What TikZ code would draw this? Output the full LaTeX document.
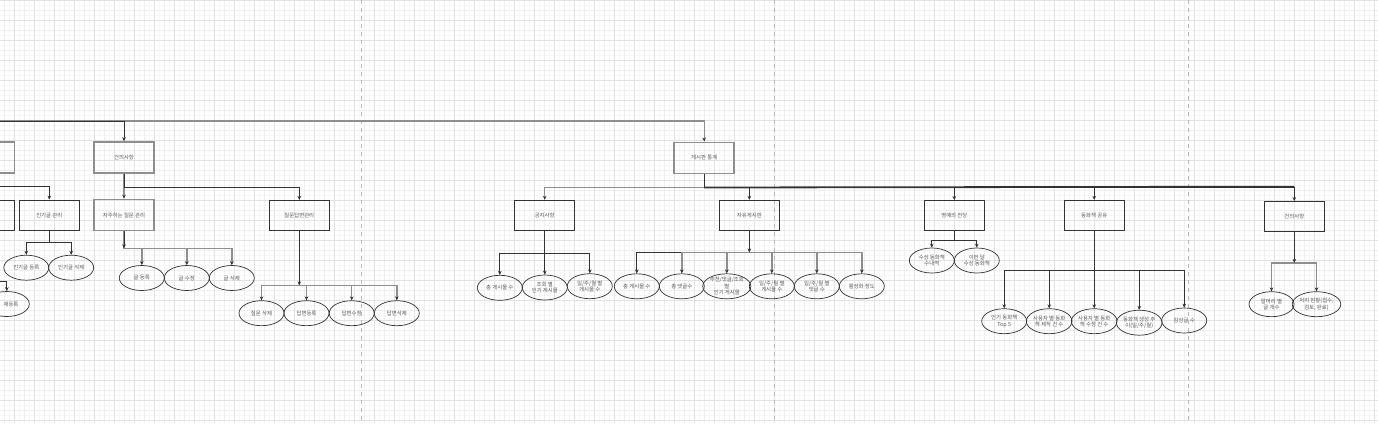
\documentclass[tikz,border=0pt]{standalone}
\usepackage{fontspec}
\newfontfamily\kr{Noto Sans CJK KR}
\usetikzlibrary{shapes.geometric,arrows.meta}
\definecolor{dline}{HTML}{333333}
\definecolor{gline}{HTML}{8E8E8E}
\definecolor{txt}{HTML}{5A5A5A}
\definecolor{gridmin}{HTML}{F7F7F7}
\definecolor{gridmid}{HTML}{EEEEEE}
\definecolor{gridmaj}{HTML}{E2E2E2}
\definecolor{pgbrk}{HTML}{B8B8B8}
\begin{document}
\begin{tikzpicture}[x=1pt,y=-1pt,
  every node/.style={font=\kr\fontsize{5.4}{6.4}\selectfont, text=txt, align=center, inner sep=0pt},
  gbox/.style={draw=gline, line width=1.6pt, minimum width=60pt, minimum height=31pt},
  dbox/.style={draw=dline, line width=0.8pt, minimum width=60pt, minimum height=30pt},
  ell/.style={ellipse, draw=dline, line width=0.7pt, minimum width=45pt, minimum height=25pt},
  conn/.style={draw=dline, line width=0.8pt, -{Stealth[length=4pt,width=3.6pt,color=dline]}},
  gconn/.style={draw=gline, line width=1.4pt, -{Stealth[length=4pt,width=3.6pt,color=dline]}},
  minorline/.style={draw=gridmin, line width=0.4pt},
  midline/.style={draw=gridmid, line width=0.5pt},
  majorline/.style={draw=gridmaj, line width=0.6pt},
  pagebreak/.style={draw=pgbrk, line width=0.6pt, dash pattern=on 4pt off 4pt},
]
\clip (0,0) rectangle (1378,423);
\fill[white] (0,0) rectangle (1378,423);
% grid
\foreach \i in {0,...,276} {\draw[minorline] ({-0.5+5*\i},0) -- ({-0.5+5*\i},423);}
\foreach \j in {0,...,85} {\draw[minorline] (0,{5*\j}) -- (1378,{5*\j});}
\foreach \i in {0,...,139} {\draw[midline] ({-5.5+10*\i},0) -- ({-5.5+10*\i},423);}
\foreach \j in {0,...,43} {\draw[midline] (0,{10*\j}) -- (1378,{10*\j});}
\foreach \i in {0,...,70} {\draw[majorline] ({-5.5+20*\i},0) -- ({-5.5+20*\i},423);}
\foreach \j in {0,...,21} {\draw[majorline] (0,{20*\j}) -- (1378,{20*\j});}
% page breaks
\foreach \x in {361,774,1188} {\draw[pagebreak] (\x,0) -- (\x,423);}

% left partial nodes
\node[gbox] (lbox1) at (-15.7,157.5) {};
\node[dbox] (lbox2) at (-15.7,215) {};
\coordinate (lft) at (-20,121);

% left subtree
\node[gbox] (sug) at (124,157.5) {건의사항};
\node[dbox] (popular) at (49.3,215) {인기글 관리};
\node[gbox] (faq) at (124,215) {자주하는 질문 관리};
\node[dbox] (qa) at (299.3,215.4) {질문답변관리};

\node[ell] (e1) at (26.3,267.7) {인기글 등록};
\node[ell] (e2) at (71.2,267.7) {인기글 삭제};
\node[ell, label={[xshift=4.2pt]center:재등록}] (e3) at (6.8,304) {};

\node[ell] (f1) at (141.8,278) {글 등록};
\node[ell] (f2) at (186.8,278) {글 수정};
\node[ell] (f3) at (231.8,278) {글 삭제};

\node[ell] (q1) at (261.5,313.2) {질문 삭제};
\node[ell] (q2) at (306.5,313.2) {답변등록};
\node[ell] (q3) at (351.7,313.2) {답변수정};
\node[ell] (q4) at (396.8,313.2) {답변삭제};

% statistics subtree
\node[gbox] (gstat) at (704.2,157.8) {게시판 통계};
\node[dbox] (notice) at (544.7,215.2) {공지사항};
\node[dbox] (free) at (749.3,215.3) {자유게시판};
\node[dbox] (fame) at (954.3,215.5) {명예의 전당};
\node[dbox] (share) at (1094.2,215.3) {동화책 공유};
\node[dbox] (sug2) at (1294.3,216.5) {건의사항};

\node[ell] (n1) at (499.8,287.8) {총 게시물 수};
\node[ell] (n2) at (544.8,287.5) {조회 별\\인기 게시물};
\node[ell] (n3) at (589.8,286.2) {일/주/월 별\\게시물 수};

\node[ell] (r1) at (636.8,286.3) {총 게시물 수};
\node[ell] (r2) at (681.8,286.3) {총 댓글수};
\node[ell] (r3) at (726.8,286.3) {추천/댓글/조회\\별\\인기 게시물};
\node[ell] (r4) at (771.8,286.3) {일/주/월 별\\게시물 수};
\node[ell] (r5) at (816.8,286.3) {일/주/월 별\\댓글 수};
\node[ell] (r6) at (861.8,286.3) {활성화 정도};

\node[ell] (h1) at (931.8,260.5) {수상 동화책\\수내역};
\node[ell] (h2) at (976.8,260.5) {이번 달\\수상 동화책};

\node[ell] (s1) at (1004.2,321.2) {인기 동화책\\Top 5};
\node[ell] (s2) at (1049.2,321.2) {사용자 별 동화\\책 제작 건 수};
\node[ell] (s3) at (1094.2,321.2) {사용자 별 동화\\책 수정 건 수};
\node[ell] (s4) at (1139.2,322.7) {동화책 생성 추\\이(일/주/월)};
\node[ell] (s5) at (1184.2,320.5) {감상글 수};

\node[ell] (k1) at (1271.5,304.2) {말머리 별\\글 개수};
\node[ell] (k2) at (1316.5,304.2) {처리 현황(접수,\\검토, 완료)};

% top connectors
\draw[gconn] (lft) -| (gstat.north);
\draw[conn] (lft) -| (sug.north);

% left connectors
\draw[conn] (lbox1.south) -- ++(0,13) -| (popular.north);
\draw[conn] (lbox2.south) -- ++(0,51) -| (e3.north);
\draw[conn] (popular.south) -- ++(0,12.3) -| (e1.north);
\draw[conn] (popular.south) -- ++(0,12.3) -| (e2.north);
\draw[gconn] (sug.south) -- ++(0,13.3) -| (faq.north);
\draw[conn] (sug.south) -- ++(0,13.3) -| (qa.north);
\draw[gconn] (faq.south) -- ++(0,17) -| (f1.north);
\draw[gconn] (faq.south) -- ++(0,17) -| (f2.north);
\draw[gconn] (faq.south) -- ++(0,17) -| (f3.north);
\draw[conn] (faq.south) -- ++(0,17);
\draw[gconn] (qa.south) -- ++(0,54.6) -| (q1.north);
\draw[gconn] (qa.south) -- ++(0,54.6) -| (q2.north);
\draw[gconn] (qa.south) -- ++(0,54.6) -| (q3.north);
\draw[gconn] (qa.south) -- ++(0,54.6) -| (q4.north);
\draw[conn] (qa.south) -- ++(0,54.6);

% statistics connectors
\draw[gconn] (gstat.south) -- ++(0,13.4) -| (notice.north);
\draw[conn] (gstat.south) -- ++(0,13.4) -| (free.north);
\draw[conn] (gstat.south) -- ++(0,13.4) -| (fame.north);
\draw[conn] (gstat.south) -- ++(0,13.4) -| (share.north);
\draw[conn] (gstat.south) -- ++(0,13.4) -| (sug2.north);
\draw[dline, line width=1.8pt] (gstat.south) ++(0,13.4) -- (sug2.north |- 0,186.7);

\draw[conn] (notice.south) -- ++(0,22.7) -| (n1.north);
\draw[conn] (notice.south) -- ++(0,22.7) -| (n2.north);
\draw[conn] (notice.south) -- ++(0,22.7) -| (n3.north);

\draw[conn] (free.south) -- ++(0,21.7) -| (r1.north);
\draw[gconn] (free.south) -- ++(0,21.7) -| (r2.north);
\draw[gconn] (free.south) -- ++(0,21.7) -| (r3.north);
\draw[gconn] (free.south) -- ++(0,21.7) -| (r4.north);
\draw[gconn] (free.south) -- ++(0,21.7) -| (r5.north);
\draw[gconn] (free.south) -- ++(0,21.7) -| (r6.north);
\draw[conn] (free.south) -- ++(0,21.7);

\draw[conn] (fame.south) -- ++(0,9.6) -| (h1.north);
\draw[conn] (fame.south) -- ++(0,9.6) -| (h2.north);

\draw[conn] (share.south) -- ++(0,39.7) -| (s1.north);
\draw[conn] (share.south) -- ++(0,39.7) -| (s2.north);
\draw[conn] (share.south) -- ++(0,39.7) -| (s3.north);
\draw[conn] (share.south) -- ++(0,39.7) -| (s4.north);
\draw[conn] (share.south) -- ++(0,39.7) -| (s5.north);

\draw[gconn] (sug2.south) -- ++(0,31) -| (k1.north);
\draw[gconn] (sug2.south) -- ++(0,31) -| (k2.north);
\draw[conn] (sug2.south) -- ++(0,31);
\end{tikzpicture}
\end{document}
